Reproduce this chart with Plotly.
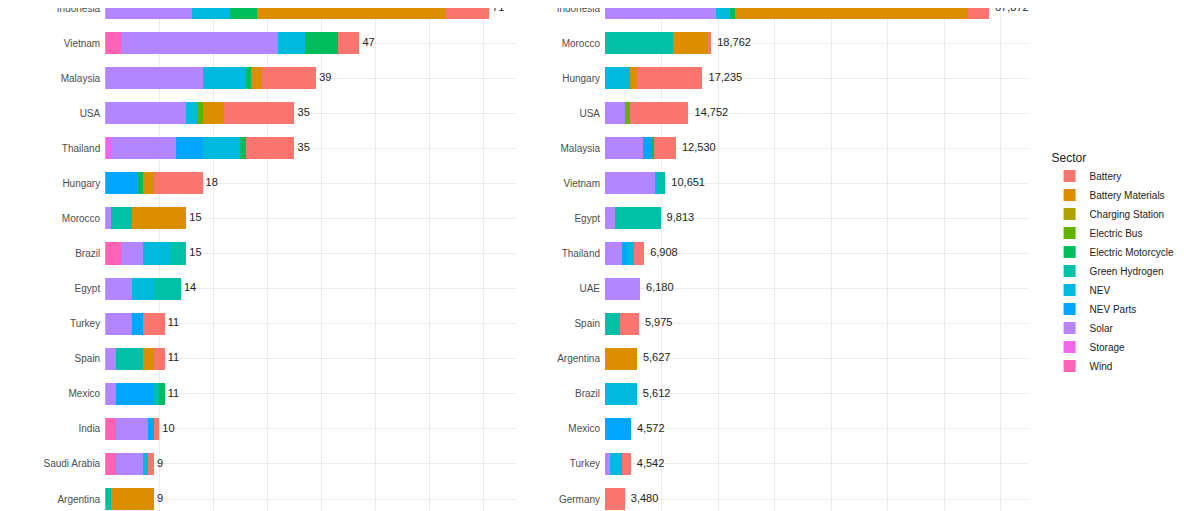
import plotly.graph_objs as go
from plotly.subplots import make_subplots

# ==============================================================================
# DATOS
# ==============================================================================
SECTORS = ['Wind', 'Storage', 'Solar', 'NEV Parts', 'NEV', 'Green Hydrogen',
           'Electric Motorcycle', 'Electric Bus', 'Charging Station',
           'Battery Materials', 'Battery']
COLORS = {
    'Battery': '#F8766D', 'Battery Materials': '#DB8E00', 'Charging Station': '#AEA200',
    'Electric Bus': '#64B200', 'Electric Motorcycle': '#00BD5C', 'Green Hydrogen': '#00C1A7',
    'NEV': '#00BADE', 'NEV Parts': '#00A6FF', 'Solar': '#B385FF', 'Storage': '#EF67EB',
    'Wind': '#FF63B6',
}
LEGEND_ORDER = ['Battery', 'Battery Materials', 'Charging Station', 'Electric Bus',
                'Electric Motorcycle', 'Green Hydrogen', 'NEV', 'NEV Parts', 'Solar',
                'Storage', 'Wind']

# Izquierda: número de proyectos
count_countries = ['Indonesia', 'Vietnam', 'Malaysia', 'USA', 'Thailand', 'Hungary', 'Morocco',
                   'Brazil', 'Egypt', 'Turkey', 'Spain', 'Mexico', 'India', 'Saudi Arabia', 'Argentina']
count_totals = [71, 47, 39, 35, 35, 18, 15, 15, 14, 11, 11, 11, 10, 9, 9]
count_values = {
    'Wind':                [0, 3, 0, 0, 0, 0, 0, 3, 0, 0, 0, 0, 2, 2, 0],
    'Storage':             [0, 0, 0, 0, 1, 0, 0, 0, 0, 0, 0, 0, 0, 0, 0],
    'Solar':               [16, 29, 18, 15, 12, 0, 1, 4, 5, 5, 2, 2, 6, 5, 0],
    'NEV Parts':           [0, 0, 0, 0, 5, 6, 0, 0, 0, 2, 0, 7, 1, 0, 0],
    'NEV':                 [7, 5, 8, 2, 7, 0, 0, 5, 4, 0, 0, 0, 0, 1, 0],
    'Green Hydrogen':      [0, 0, 0, 0, 0, 0, 4, 3, 5, 0, 5, 1, 0, 0, 1],
    'Electric Motorcycle': [5, 6, 1, 0, 1, 1, 0, 0, 0, 0, 0, 1, 0, 0, 0],
    'Electric Bus':        [0, 0, 0, 1, 0, 0, 0, 0, 0, 0, 0, 0, 0, 0, 0],
    'Charging Station':    [0, 0, 0, 0, 0, 0, 0, 0, 0, 0, 0, 0, 0, 0, 0],
    'Battery Materials':   [35, 0, 2, 4, 0, 2, 10, 0, 0, 0, 2, 0, 0, 0, 8],
    'Battery':             [8, 4, 10, 13, 9, 9, 0, 0, 0, 4, 2, 0, 1, 1, 0],
}

# Derecha: inversión (USD m)
value_countries = ['Indonesia', 'Morocco', 'Hungary', 'USA', 'Malaysia', 'Vietnam', 'Egypt',
                   'Thailand', 'UAE', 'Spain', 'Argentina', 'Brazil', 'Mexico', 'Turkey', 'Germany']
value_totals = [67872, 18762, 17235, 14752, 12530, 10651, 9813, 6908, 6180, 5975, 5627, 5612, 4572, 4542, 3480]
value_values = {
    'Wind':                [0] * 15,
    'Storage':             [0] * 15,
    'Solar':               [19700, 0, 0, 3530, 6760, 8820, 1760, 2940, 6180, 0, 0, 0, 0, 880, 0],
    'NEV Parts':           [0, 0, 0, 0, 1470, 0, 0, 1000, 0, 0, 0, 0, 4572, 0, 0],
    'NEV':                 [2350, 0, 4400, 0, 0, 470, 0, 1240, 0, 0, 0, 5612, 0, 2060, 0],
    'Green Hydrogen':      [0, 12060, 0, 0, 0, 1361, 8053, 0, 0, 2650, 0, 0, 0, 0, 0],
    'Electric Motorcycle': [900, 0, 0, 0, 470, 0, 0, 0, 0, 0, 0, 0, 0, 0, 0],
    'Electric Bus':        [0, 0, 0, 880, 0, 0, 0, 0, 0, 0, 0, 0, 0, 0, 0],
    'Charging Station':    [0] * 15,
    'Battery Materials':   [41200, 6180, 1176, 0, 0, 0, 0, 0, 0, 0, 5627, 0, 0, 0, 0],
    'Battery':             [3722, 522, 11659, 10342, 3830, 0, 0, 1728, 0, 3325, 0, 0, 0, 1602, 3480],
}

# ==============================================================================
# GRÁFICO
# ==============================================================================
fig = make_subplots(rows=1, cols=2, horizontal_spacing=0.08)

for sector in SECTORS:
    fig.add_trace(go.Bar(
        y=count_countries, x=count_values[sector], orientation='h',
        name=sector, marker=dict(color=COLORS[sector], line=dict(width=0)),
        legendgroup=sector, showlegend=False,
        legendrank=LEGEND_ORDER.index(sector) + 1,
    ), row=1, col=1)
    fig.add_trace(go.Bar(
        y=value_countries, x=value_values[sector], orientation='h',
        name=sector, marker=dict(color=COLORS[sector], line=dict(width=0)),
        legendgroup=sector, showlegend=True,
        legendrank=LEGEND_ORDER.index(sector) + 1,
    ), row=1, col=2)

# Etiquetas de totales
fig.add_trace(go.Scatter(
    y=count_countries, x=count_totals, mode='text',
    text=[' ' + str(v) for v in count_totals], textposition='middle right',
    textfont=dict(size=11, color='#222'), showlegend=False, hoverinfo='skip'
), row=1, col=1)
fig.add_trace(go.Scatter(
    y=value_countries, x=value_totals, mode='text',
    text=[f'  {v:,}' for v in value_totals], textposition='middle right',
    textfont=dict(size=11, color='#222'), showlegend=False, hoverinfo='skip'
), row=1, col=2)

yrange = [14.57, 0]
fig.update_layout(
    width=1200, height=511,
    barmode='stack', bargap=0.37,
    margin=dict(l=0, r=0, t=0, b=0, autoexpand=False),
    plot_bgcolor='white', paper_bgcolor='white',
    font=dict(family='Liberation Sans, Arial', size=10, color='#4d4d4d'),
    legend=dict(
        title=dict(text='Sector', font=dict(size=12, color='#222')),
        x=0.868, y=0.5, yanchor='middle', xanchor='left',
        font=dict(size=10, color='#222'), tracegroupgap=0, itemwidth=30,
    ),
    xaxis=dict(domain=[0.081, 0.4235], range=[0, 76], dtick=10, showgrid=True,
               gridcolor='#ebebeb', showticklabels=False, zeroline=False, automargin=False),
    xaxis2=dict(domain=[0.4975, 0.851], range=[0, 75000], dtick=10000, showgrid=True,
                gridcolor='#ebebeb', showticklabels=False, zeroline=False, automargin=False),
    yaxis=dict(range=yrange, showgrid=True, gridcolor='#ebebeb', ticks='',
               ticklabelstandoff=4, automargin=False),
    yaxis2=dict(range=yrange, showgrid=True, gridcolor='#ebebeb', ticks='',
                ticklabelstandoff=4, automargin=False),
)

fig.write_html("out.html")
